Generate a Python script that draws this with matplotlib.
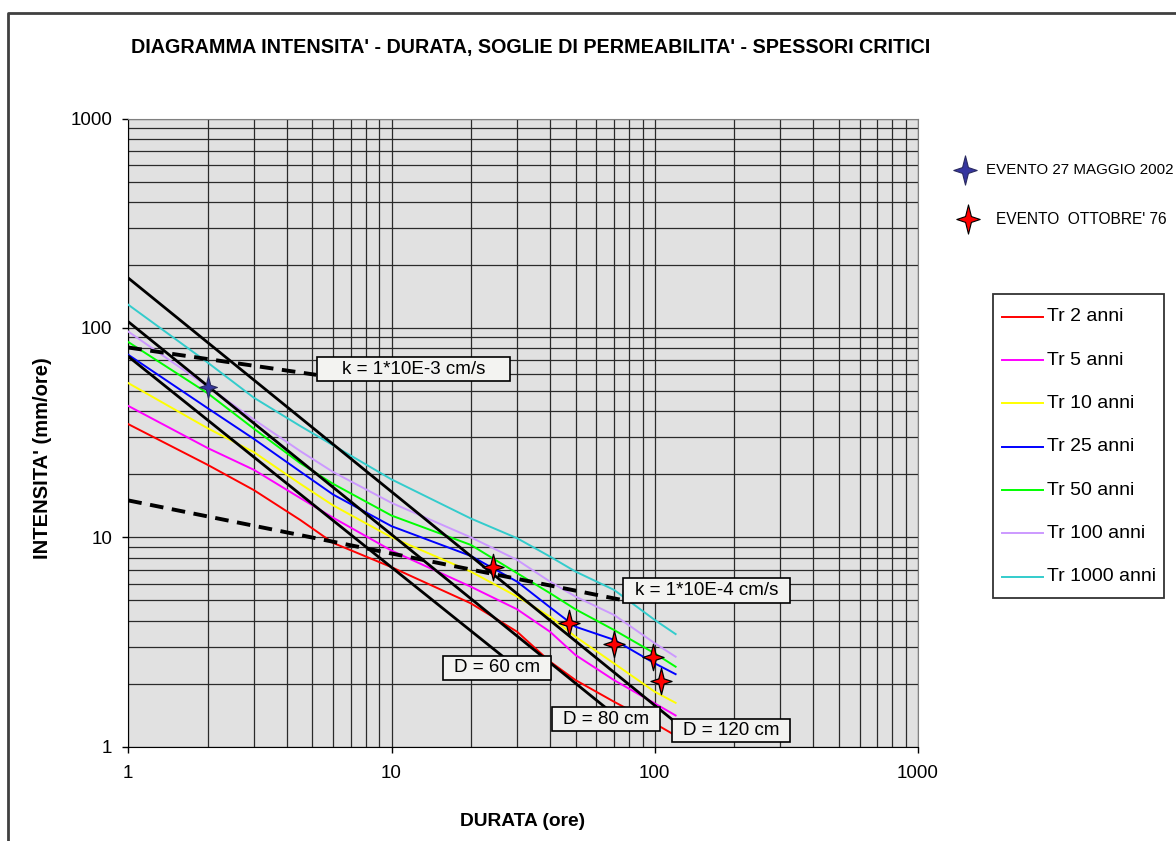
import numpy as np
import matplotlib
matplotlib.use("Agg")
import matplotlib.pyplot as plt
from matplotlib.path import Path
from matplotlib.lines import Line2D
from matplotlib.patches import Rectangle
from matplotlib.ticker import LogLocator, NullFormatter, FixedLocator, FixedFormatter

plt.rcParams['font.family'] = ['Liberation Sans', 'DejaVu Sans']

# curve intensita'-durata (mm/ore) per tempo di ritorno
durata = [1, 2, 3, 4.5, 6, 10, 20, 30, 40, 50, 70, 100, 120]
tr_labels = ['Tr 2 anni', 'Tr 5 anni', 'Tr 10 anni', 'Tr 25 anni',
             'Tr 50 anni', 'Tr 100 anni', 'Tr 1000 anni']
tr_colors = ['#ff0000', '#ff00ff', '#ffff00', '#0000ff',
             '#00ff00', '#cc99ff', '#33cccc']
tr2 = [34.7, 22.2, 16.8, 12.1, 9.4, 7.2, 4.84, 3.54, 2.55, 2.08, 1.64, 1.29, 1.13]
tr5 = [42.4, 26.7, 21.0, 15.4, 12.4, 8.64, 5.81, 4.53, 3.54, 2.74, 2.08, 1.61, 1.41]
tr10 = [54.5, 33.2, 25.5, 18.0, 14.2, 10.0, 6.86, 5.21, 4.18, 3.35, 2.50, 1.83, 1.62]
tr25 = [74.4, 41.4, 29.5, 20.6, 16.0, 11.3, 8.15, 6.14, 4.63, 3.74, 3.24, 2.50, 2.22]
tr50 = [85.6, 48.8, 33.0, 22.6, 18.0, 12.7, 9.2, 6.74, 5.41, 4.53, 3.61, 2.79, 2.41]
tr100 = [96.0, 52.5, 36.5, 25.8, 20.5, 14.6, 10.0, 7.8, 6.14, 5.21, 4.26, 3.12, 2.69]
tr1000 = [129.0, 68.4, 46.4, 34.0, 27.5, 18.9, 12.3, 9.9, 8.09, 6.86, 5.61, 4.03, 3.45]
tr_series = [tr2, tr5, tr10, tr25, tr50, tr100, tr1000]

# soglie di permeabilita' (tratteggiate)
k3_dur = [1, 5.17]
k3_int = [80.6, 59.7]
k4_dur = [1, 75]
k4_int = [15.0, 5.02]

# spessori critici
d60_dur = [1, 28]
d60_int = [73.0, 2.55]
d80_dur = [1, 75]
d80_int = [107.0, 1.33]
d120_dur = [1, 118]
d120_int = [173.0, 1.33]

# eventi
ev2002_dur = [2]
ev2002_int = [52.0]
ev76_dur = [24.3, 47.1, 69.8, 98.3, 106]
ev76_int = [7.24, 3.89, 3.10, 2.69, 2.05]

W, H = 1176, 841
fig = plt.figure(figsize=(W / 100, H / 100), dpi=100)


def fx(px):
    return px / W


def fy(py):
    return 1 - py / H


ax = fig.add_axes([fx(128.3), fy(746.7), fx(918) - fx(128.3), fy(118.5) - fy(746.7)])
ax.set_facecolor('#e1e1e1')
ax.set_xscale('log')
ax.set_yscale('log')
ax.set_xlim(1, 1000)
ax.set_ylim(1, 1000)

ax.xaxis.set_major_locator(FixedLocator([1, 10, 100, 1000]))
ax.xaxis.set_major_formatter(FixedFormatter(['1', '10', '100', '1000']))
ax.yaxis.set_major_locator(FixedLocator([1, 10, 100, 1000]))
ax.yaxis.set_major_formatter(FixedFormatter(['1', '10', '100', '1000']))
ax.xaxis.set_minor_locator(LogLocator(base=10, subs=np.arange(2, 10)))
ax.yaxis.set_minor_locator(LogLocator(base=10, subs=np.arange(2, 10)))
ax.xaxis.set_minor_formatter(NullFormatter())
ax.yaxis.set_minor_formatter(NullFormatter())
ax.tick_params(which='major', direction='out', length=4.5, width=1, labelsize=13.5)
ax.tick_params(axis='x', which='major', pad=9)
ax.tick_params(axis='y', which='major', pad=7)
ax.tick_params(which='minor', length=0)
ax.grid(True, which='both', color='#2a2a2a', linewidth=0.9)
ax.set_axisbelow(True)
for side in ['top', 'right']:
    ax.spines[side].set_color('#808080')
for side in ['left', 'bottom']:
    ax.spines[side].set_color('#000000')

for vals, col in zip(tr_series, tr_colors):
    ax.plot(durata, vals, color=col, lw=1.4, zorder=3)

for dd, ii in [(d60_dur, d60_int), (d80_dur, d80_int), (d120_dur, d120_int)]:
    ax.plot(dd, ii, color='black', lw=2.0, zorder=4)

for dd, ii in [(k3_dur, k3_int), (k4_dur, k4_int)]:
    ax.plot(dd, ii, color='black', lw=2.8, dashes=(3.5, 2.2), zorder=5)

# stella a quattro punte
star = Path([(0, 1), (0.2, 0.2), (0.8, 0), (0.2, -0.2), (0, -1),
             (-0.2, -0.2), (-0.8, 0), (-0.2, 0.2), (0, 1)],
            [Path.MOVETO] + [Path.LINETO] * 7 + [Path.CLOSEPOLY])

ax.plot(ev2002_dur, ev2002_int, ls='none', marker=star, ms=16,
        mfc='#3636a0', mec='#2a2a60', mew=0.8, zorder=7)
ax.plot(ev76_dur, ev76_int, ls='none', marker=star, ms=19,
        mfc='#ff0000', mec='#000000', mew=0.9, zorder=7)

# riquadri con le etichette
boxes = [
    (317, 357, 510, 381, 'k = 1*10E-3 cm/s'),
    (623, 578, 790, 603, 'k = 1*10E-4 cm/s'),
    (443, 656, 551, 680, 'D = 60 cm'),
    (552, 707, 660, 731, 'D = 80 cm'),
    (672, 719, 790, 742, 'D = 120 cm'),
]
for x0, y0, x1, y1, txt in boxes:
    fig.add_artist(Rectangle((fx(x0), fy(y1)), fx(x1) - fx(x0), fy(y0) - fy(y1),
                             transform=fig.transFigure, facecolor='#f3f3f1',
                             edgecolor='black', lw=1.2, zorder=8))
    fig.text(fx((x0 + x1) / 2), fy((y0 + y1) / 2), txt, ha='center', va='center',
             fontsize=13.5, zorder=9)

# titoli
fig.text(fx(531), fy(47), "DIAGRAMMA INTENSITA' - DURATA, SOGLIE DI PERMEABILITA' - SPESSORI CRITICI",
         ha='center', va='center', fontsize=14.2, fontweight='bold')
fig.text(fx(523), fy(822), 'DURATA (ore)', ha='center', va='center',
         fontsize=13.8, fontweight='bold')
fig.text(fx(43), fy(458), "INTENSITA' (mm/ore)", ha='center', va='center',
         rotation=90, fontsize=14.5, fontweight='bold')

# legenda eventi
fig.add_artist(Line2D([fx(965)], [fy(170)], transform=fig.transFigure, ls='none',
                      marker=star, ms=21, mfc='#3636a0', mec='#2a2a60', mew=0.8))
fig.text(fx(986), fy(170), 'EVENTO 27 MAGGIO 2002', ha='left', va='center', fontsize=10.9)
fig.add_artist(Line2D([fx(968)], [fy(219)], transform=fig.transFigure, ls='none',
                      marker=star, ms=21, mfc='#ff0000', mec='#000000', mew=0.8))
fig.text(fx(996), fy(219), "EVENTO  OTTOBRE' 76", ha='left', va='center', fontsize=11.2)

# legenda tempi di ritorno
fig.add_artist(Rectangle((fx(993), fy(598)), fx(1164) - fx(993), fy(294) - fy(598),
                         transform=fig.transFigure, facecolor='white',
                         edgecolor='#333333', lw=1.3))
for i, (lab, col) in enumerate(zip(tr_labels, tr_colors)):
    yy = 316.7 + i * 43.33
    fig.add_artist(Line2D([fx(1002), fx(1043)], [fy(yy), fy(yy)],
                          transform=fig.transFigure, color=col, lw=1.4))
    fig.text(fx(1047), fy(yy), lab, ha='left', va='center', fontsize=14)

# cornice dell'area grafico
fig.add_artist(Line2D([fx(8), fx(8), fx(1176)], [fy(841), fy(12.5), fy(12.5)],
                      transform=fig.transFigure, color='#404040', lw=2))

fig.savefig('out.png', dpi=100)
